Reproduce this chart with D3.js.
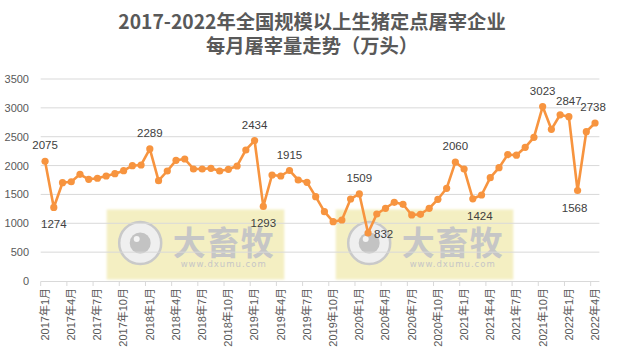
<!DOCTYPE html>
<html><head><meta charset="utf-8">
<script src="https://cdn.jsdelivr.net/npm/d3@7"></script>
<style>
html,body{margin:0;padding:0;background:#fff;}
svg{display:block;}
</style></head>
<body>
<svg id="chart" width="624" height="363"></svg>
<script>
const titleLines = ["2017-2022年全国规模以上生猪定点屠宰企业", "每月屠宰量走势（万头）"];
const years = [2017, 2018, 2019, 2020, 2021, 2022];
const months = [];
years.forEach(y => { for (let m = 1; m <= 12; m++) { if (y === 2022 && m > 4) break; months.push(y + "年" + m + "月"); } });
const values = [2075,1274,1703,1720,1849,1762,1780,1819,1860,1912,1998,2010,
  2289,1738,1906,2091,2114,1941,1941,1953,1906,1935,1993,2270,
  2434,1293,1837,1819,1915,1750,1710,1461,1201,1028,1057,1421,
  1509,832,1161,1260,1364,1329,1144,1156,1260,1416,1606,2060,
  1941,1424,1490,1790,1963,2190,2180,2316,2490,3023,2628,2880,
  2847,1568,2587,2738];
const yTicks = [0,500,1000,1500,2000,2500,3000,3500];
const labelledAbove = [0,12,24,28,36,47,57,60,63];
const labelledBelow = [1,25,49,61];
const labelledRight = [37];
const watermarkText = ["大畜牧", "www.dxumu.com"];

const svg = d3.select("#chart");
const font = "'Liberation Sans','Noto Sans CJK SC',sans-serif";
const x = d3.scaleBand().domain(months).range([40.7, 599.4]).padding(0);
const y = d3.scaleLinear().domain([0, 3500]).range([281, 79]);
const cx = d => x(d) + x.bandwidth() / 2;

// title
svg.append("g").selectAll("text").data(titleLines).join("text")
  .attr("x", 312).attr("y", (d, i) => 29 + i * 24)
  .attr("text-anchor", "middle")
  .attr("font-family", "'Noto Sans CJK SC',sans-serif")
  .attr("font-weight", "bold").attr("font-size", 19.3)
  .attr("fill", "#595959").text(d => d);

// watermarks
const defs = svg.append("defs");
defs.append("filter").attr("id", "soft").append("feGaussianBlur").attr("stdDeviation", 1.2);
const wmX = [106.7, 335.7];
wmX.forEach(wx => {
  const g = svg.append("g").attr("transform", `translate(${wx},209.5)`);
  g.append("rect").attr("width", 177.6).attr("height", 70).attr("fill", "#f4efc2").attr("filter", "url(#soft)");
  g.append("circle").attr("cx", 33.5).attr("cy", 33.5).attr("r", 21).attr("fill", "#efefef").attr("stroke", "#c9c9c9").attr("stroke-width", 2.5);
  g.append("circle").attr("cx", 33.5).attr("cy", 33.5).attr("r", 10.5).attr("fill", "#c3c3c3");
  g.append("circle").attr("cx", 30).attr("cy", 29.5).attr("r", 3).attr("fill", "#f4f4f4");
  g.append("text").attr("x", 117).attr("y", 45.5).attr("text-anchor", "middle")
    .attr("font-family", "'Noto Sans CJK SC',sans-serif").attr("font-weight", "bold")
    .attr("font-size", 33).attr("fill", "#c6c6c6").attr("letter-spacing", 1).text(watermarkText[0]);
  g.append("text").attr("x", 117).attr("y", 57.5).attr("text-anchor", "middle")
    .attr("font-family", "'DejaVu Sans',sans-serif")
    .attr("font-size", 8.5).attr("fill", "#c6c6c6").attr("letter-spacing", 1).text(watermarkText[1]);
});

// gridlines
svg.append("g").selectAll("line").data(yTicks.filter(t => t > 0)).join("line")
  .attr("x1", 40.7).attr("x2", 599.4).attr("y1", d => y(d)).attr("y2", d => y(d))
  .attr("stroke", "#d9d9d9").attr("stroke-width", 1);

// y axis labels
const yAxis = d3.axisLeft(y).tickValues(yTicks).tickFormat(d3.format("d")).tickSize(0).tickPadding(0);
const yg = svg.append("g").attr("transform", "translate(29,0)").call(yAxis);
yg.select(".domain").remove();
yg.selectAll("text").attr("font-family", font).attr("font-size", 11).attr("fill", "#595959");

// x axis
svg.append("line").attr("x1", 40.7).attr("x2", 599.4).attr("y1", 281.5).attr("y2", 281.5)
  .attr("stroke", "#d9d9d9").attr("stroke-width", 1);
const tickCats = months.filter((d, i) => i % 3 === 0);
svg.append("g").selectAll("line").data(tickCats).join("line")
  .attr("x1", d => x(d)).attr("x2", d => x(d)).attr("y1", 281.5).attr("y2", 286)
  .attr("stroke", "#d9d9d9");
const xAxis = d3.axisBottom(x).tickValues(tickCats).tickSize(0).tickPadding(0);
const xg = svg.append("g").attr("transform", "translate(0,288)").call(xAxis);
xg.select(".domain").remove();
xg.selectAll("text").attr("font-family", font).attr("font-size", 11).attr("fill", "#595959")
  .attr("text-anchor", "end").attr("dy", "0.35em").attr("dx", 0)
  .attr("x", 0).attr("y", 0)
  .attr("transform", "rotate(-90)");

// line
const color = "#f7943f";
const line = d3.line().x((d, i) => cx(months[i])).y(d => y(d));
svg.append("path").datum(values).attr("d", line).attr("fill", "none")
  .attr("stroke", color).attr("stroke-width", 2.6).attr("stroke-linejoin", "round");
svg.append("g").selectAll("circle").data(values).join("circle")
  .attr("cx", (d, i) => cx(months[i])).attr("cy", d => y(d)).attr("r", 3.6).attr("fill", color);

// data labels
const lab = svg.append("g").attr("font-family", font).attr("font-size", 11.5).attr("fill", "#404040");
labelledAbove.forEach(i => lab.append("text").attr("x", cx(months[i]) + (i === 63 ? -2 : 0)).attr("y", y(values[i]) - 16)
  .attr("dy", "0.35em").attr("text-anchor", "middle").text(values[i]));
labelledBelow.forEach(i => lab.append("text").attr("x", cx(months[i]) + (i === 49 ? 7 : i === 61 ? -3 : 0)).attr("y", y(values[i]) + 17)
  .attr("dy", "0.35em").attr("text-anchor", "middle").text(values[i]));
labelledRight.forEach(i => lab.append("text").attr("x", cx(months[i]) + 6).attr("y", y(values[i]) + 1)
  .attr("dy", "0.35em").attr("text-anchor", "start").text(values[i]));
</script>
</body></html>
